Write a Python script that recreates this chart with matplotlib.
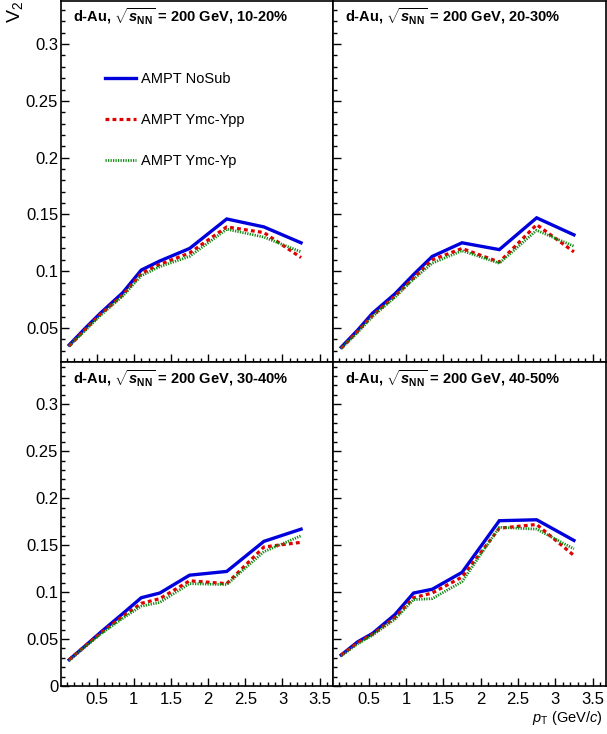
import numpy as np
import matplotlib
matplotlib.use("Agg")
import matplotlib.pyplot as plt
from matplotlib.ticker import MultipleLocator, FormatStrFormatter

plt.rcParams['font.family'] = ['Liberation Sans', 'DejaVu Sans']
plt.rcParams['mathtext.fontset'] = 'custom'
plt.rcParams['mathtext.rm'] = 'Liberation Sans'
plt.rcParams['mathtext.it'] = 'Liberation Sans:italic'
plt.rcParams['mathtext.bf'] = 'Liberation Sans:bold'
plt.rcParams['mathtext.bfit'] = 'Liberation Sans:italic:bold'

# pT bin centres (GeV/c)
pt = [0.13, 0.35, 0.55, 0.85, 1.1, 1.35, 1.75, 2.25, 2.75, 3.25]

centralities = ["10-20%", "20-30%", "30-40%", "40-50%"]

# v2 for each centrality: NoSub, Ymc-Ypp, Ymc-Yp
nosub_1020 = [0.035, 0.050, 0.063, 0.081, 0.101, 0.109, 0.120, 0.146, 0.139, 0.125]
ypp_1020 = [0.034, 0.049, 0.062, 0.079, 0.098, 0.106, 0.116, 0.139, 0.134, 0.112]
yp_1020 = [0.034, 0.048, 0.061, 0.078, 0.096, 0.104, 0.113, 0.137, 0.130, 0.117]

nosub_2030 = [0.033, 0.048, 0.063, 0.080, 0.097, 0.113, 0.125, 0.119, 0.147, 0.132]
ypp_2030 = [0.032, 0.047, 0.061, 0.078, 0.094, 0.110, 0.120, 0.108, 0.141, 0.117]
yp_2030 = [0.032, 0.046, 0.060, 0.077, 0.093, 0.107, 0.118, 0.107, 0.136, 0.122]

nosub_3040 = [0.028, 0.043, 0.057, 0.077, 0.094, 0.099, 0.118, 0.122, 0.154, 0.167]
ypp_3040 = [0.028, 0.043, 0.056, 0.074, 0.088, 0.093, 0.112, 0.109, 0.148, 0.153]
yp_3040 = [0.027, 0.042, 0.055, 0.072, 0.085, 0.089, 0.109, 0.108, 0.143, 0.160]

nosub_4050 = [0.033, 0.047, 0.056, 0.076, 0.099, 0.103, 0.121, 0.176, 0.177, 0.155]
ypp_4050 = [0.033, 0.046, 0.055, 0.073, 0.094, 0.099, 0.116, 0.168, 0.172, 0.139]
yp_4050 = [0.032, 0.045, 0.054, 0.071, 0.092, 0.093, 0.111, 0.169, 0.167, 0.146]

series = [(nosub_1020, ypp_1020, yp_1020),
          (nosub_2030, ypp_2030, yp_2030),
          (nosub_3040, ypp_3040, yp_3040),
          (nosub_4050, ypp_4050, yp_4050)]

W, H = 607, 734
fig = plt.figure(figsize=(W / 100, H / 100), dpi=100)

def px_box(x0, y0, x1, y1):
    return [x0 / W, 1 - y1 / H, (x1 - x0) / W, (y1 - y0) / H]

boxes = [px_box(61, 1, 333, 362), px_box(333, 1, 606, 362),
         px_box(61, 362, 333, 686), px_box(333, 362, 606, 686)]
ylims = [(0.02, 0.338), (0.02, 0.338), (0.0, 0.345), (0.0, 0.345)]

axes = []
for i, box in enumerate(boxes):
    ax = fig.add_axes(box)
    axes.append(ax)
    nosub, ypp, yp = series[i]
    ax.plot(pt, nosub, color='#0000dd', lw=2.4, solid_joinstyle='miter', label='AMPT NoSub')
    ax.plot(pt, ypp, color='#e00000', lw=2.3, dashes=(1.2, 1.0), label='AMPT Ymc-Ypp')
    ax.plot(pt, yp, color='#108a10', lw=2.0, dashes=(0.45, 0.45), label='AMPT Ymc-Yp')

    ax.set_xlim(0.02, 3.68)
    ax.set_ylim(*ylims[i])
    ax.xaxis.set_major_locator(MultipleLocator(0.5))
    ax.xaxis.set_minor_locator(MultipleLocator(0.1))
    ax.yaxis.set_major_locator(MultipleLocator(0.05))
    ax.yaxis.set_minor_locator(MultipleLocator(0.01))
    ax.xaxis.set_major_formatter(FormatStrFormatter('%g'))
    ax.yaxis.set_major_formatter(FormatStrFormatter('%g'))
    ax.tick_params(which='both', direction='in', top=False, right=False,
                   labelsize=12, width=1)
    ax.tick_params(which='major', length=6)
    ax.tick_params(which='minor', length=3)
    ax.tick_params(axis='y', pad=2)
    ax.tick_params(axis='x', pad=4)
    for sp in ax.spines.values():
        sp.set_linewidth(1.2)
    if i % 2 == 1:
        ax.tick_params(labelleft=False)
    if i < 2:
        ax.tick_params(labelbottom=False)
    if i < 2:
        ax.set_yticks([0.05, 0.1, 0.15, 0.2, 0.25, 0.3])
    else:
        ax.set_yticks([0, 0.05, 0.1, 0.15, 0.2, 0.25, 0.3])
        ax.set_xticks([0.5, 1, 1.5, 2, 2.5, 3, 3.5])

    lx = 73 if i % 2 == 0 else 345
    ly = 17 if i < 2 else 379
    fig.text(lx / W, 1 - ly / H,
             r"d-Au, $\sqrt{\boldsymbol{s}_{\mathbf{NN}}}$ = 200 GeV, " + centralities[i],
             fontsize=10.5, fontweight='bold', ha='left', va='center')

axes[0].legend(loc='upper left', bbox_to_anchor=(105 / W, 1 - 72 / H),
               bbox_transform=fig.transFigure, frameon=False, fontsize=10.5,
               handlelength=2.1, handletextpad=0.4, labelspacing=1.85,
               borderpad=0, borderaxespad=0)

fig.text(15 / W, 1 - 1 / H, r"V$_2$", rotation=90, fontsize=14,
         ha='center', va='top')
fig.text(603 / W, 1 - 718 / H, r"$p_{\rm T}$ (GeV/$c$)", fontsize=10.5,
         ha='right', va='center')

fig.savefig("out.png", dpi=100)
